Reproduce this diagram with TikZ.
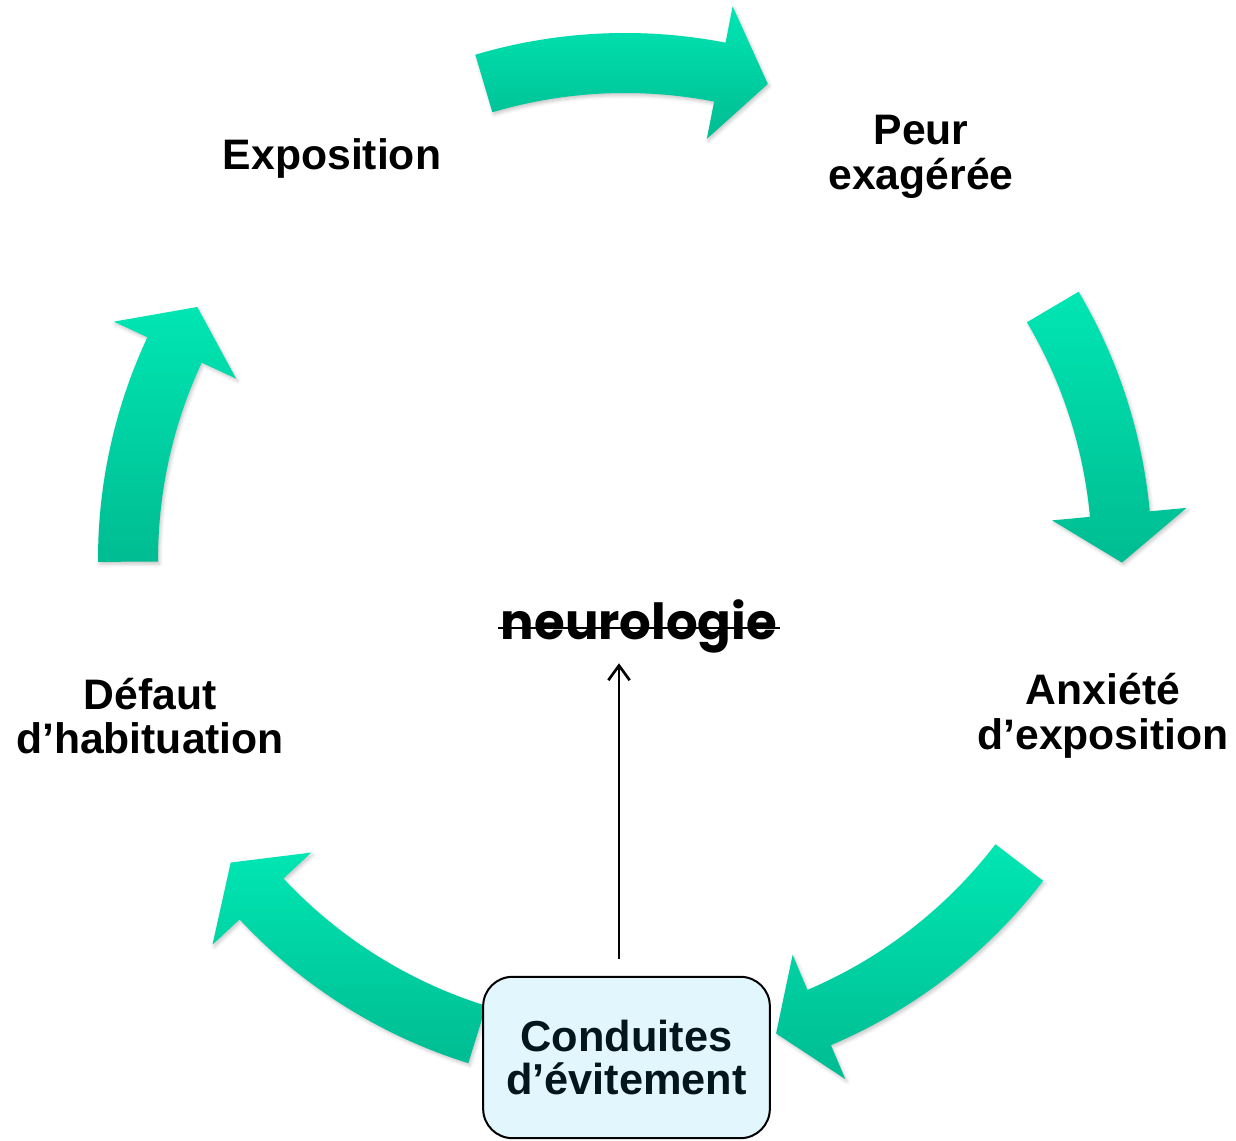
\documentclass[tikz,border=0pt]{standalone}
\usepackage{fontspec}
\setmainfont{Liberation Sans}
\newfontfamily\geofont{Poppins}
\usetikzlibrary{arrows.meta,shadows.blur,calc}
\definecolor{mintTop}{RGB}{0,230,179}
\definecolor{mintBot}{RGB}{0,188,146}
\definecolor{boxFill}{RGB}{226,246,253}
\definecolor{ink}{RGB}{3,22,30}
% #1 start angle, #2 head base angle, #3 tip angle
\newcommand\cycarrow[3]{%
  \shade[band] ($(C)+(#1:527)$) arc[start angle=#1, end angle=#2, radius=527]
    -- ($(C)+(#2:564)$) -- ($(C)+(#3:497)$) -- ($(C)+(#2:429)$)
    -- ($(C)+(#2:467)$) arc[start angle=#2, end angle=#1, radius=467] -- cycle;}
\begin{document}
\begin{tikzpicture}[x=0.75pt,y=0.75pt,
  band/.style={top color=mintTop,bottom color=mintBot,draw=none,
    blur shadow={shadow xshift=1.2pt,shadow yshift=-1.8pt,shadow blur radius=2.5pt,shadow opacity=22}},
  lbl/.style={font=\fontsize{32}{33.5}\selectfont\bfseries,align=center,inner sep=0pt,text=black},
  avoidbox/.style={draw=black,line width=1.5pt,fill=boxFill,rounded corners=22pt,
    minimum width=215pt,minimum height=121pt,align=center,text=ink,
    font=\fontsize{32.5}{32.5}\selectfont\bfseries},
  conn/.style={draw=black,line width=1pt,-{Straight Barb[length=11pt,width=16pt,line width=2pt]}}]
\useasboundingbox (0,0) rectangle (1236,1140);
\coordinate (C) at (625,580);

\cycarrow{106.5}{79}{73.3}
\cycarrow{30.6}{5.3}{-0.3}
\cycarrow{-37.5}{-67}{-72.3}
\cycarrow{-107.3}{-137}{-142.5}
\cycarrow{180.2}{155}{149.4}

\node[lbl] (expo) at (332,982) {Exposition};
\node[lbl] (peur) at (921,983) {Peur\\exagérée};
\node[lbl] (anx) at (1103,424) {Anxiété\\d’exposition};
\node[lbl] (defaut) at (150,424) {Défaut\\d’habituation};

\node[avoidbox] (avoid) at (626.5,82.5) {Conduites\\d’évitement};

\node[anchor=base,inner sep=2pt,font=\geofont\fontsize{37.3}{40}\selectfont\bfseries] (neuro) at (639,500) {neurologie};
\draw[line width=2.2pt] ($(neuro.base west)+(0,12)$) -- ($(neuro.base east)+(0,12)$);

\coordinate (ax) at (619,0);
\draw[conn,shorten <=12.75pt,shorten >=5pt] (avoid.north -| ax) -- (neuro.south -| ax);
\end{tikzpicture}
\end{document}
